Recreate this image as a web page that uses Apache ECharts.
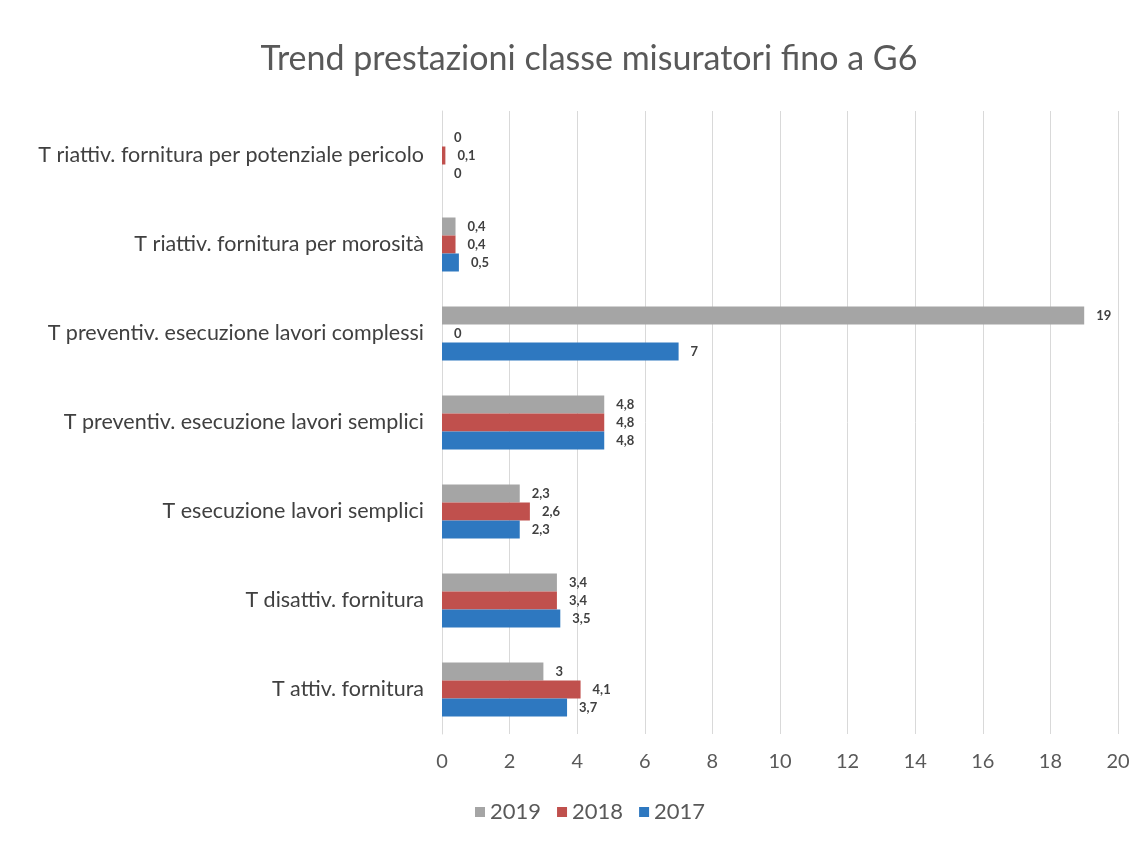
<!DOCTYPE html>
<html>
<head>
<meta charset="utf-8">
<script src="https://cdn.jsdelivr.net/npm/echarts@6/dist/echarts.min.js"></script>
<style>html,body{margin:0;padding:0;background:#fff}#c{width:1144px;height:846px}</style>
</head>
<body>
<div id="c"></div>
<script>
// categories bottom-to-top
const categories = [
  'T attiv. fornitura',
  'T disattiv. fornitura',
  'T esecuzione lavori semplici',
  'T preventiv. esecuzione lavori semplici',
  'T preventiv. esecuzione lavori complessi',
  'T riattiv. fornitura per morosità',
  'T riattiv. fornitura per potenziale pericolo'
];
const values2019 = [3, 3.4, 2.3, 4.8, 19, 0.4, 0];
const values2018 = [4.1, 3.4, 2.6, 4.8, 0, 0.4, 0.1];
const values2017 = [3.7, 3.5, 2.3, 4.8, 7, 0.5, 0];
const xTicks = [0, 2, 4, 6, 8, 10, 12, 14, 16, 18, 20];

const FONT = 'Lato';
const chart = echarts.init(document.getElementById('c'), null, {renderer: 'canvas'});
const lbl = {
  show: true, position: 'right', distance: 12,
  fontFamily: FONT, fontSize: 13, fontWeight: 'bold', color: '#404040',
  formatter: p => String(p.value).replace('.', ',')
};
function mk(name, data, color) {
  return {
    name, type: 'bar', data, barWidth: 18, barGap: '0%',
    itemStyle: {color}, label: lbl
  };
}
chart.setOption({
  animation: false,
  backgroundColor: '#fff',
  title: {
    text: 'Trend prestazioni classe misuratori fino a G6',
    left: 584, top: 37, textAlign: 'center',
    textStyle: {fontFamily: FONT, fontSize: 34, fontWeight: 'normal', color: '#595959'}
  },
  legend: {
    data: ['2019', '2018', '2017'],
    bottom: 18, left: 470,
    icon: 'rect', itemWidth: 10, itemHeight: 10, itemGap: 16,
    textStyle: {fontFamily: FONT, fontSize: 22, color: '#595959'}
  },
  grid: {left: 442, right: 26, top: 111, bottom: 112, containLabel: false},
  xAxis: {
    type: 'value', min: xTicks[0], max: xTicks[xTicks.length - 1], interval: 2,
    axisLine: {show: false}, axisTick: {show: false},
    splitLine: {lineStyle: {color: '#d9d9d9', width: 1}},
    axisLabel: {fontFamily: FONT, fontSize: 20, color: '#595959', margin: 18}
  },
  yAxis: {
    type: 'category', data: categories,
    axisLine: {show: true, lineStyle: {color: '#d9d9d9'}}, axisTick: {show: false},
    axisLabel: {fontFamily: FONT, fontSize: 21.5, color: '#404040', margin: 18}
  },
  series: [
    mk('2019', values2019, '#a5a5a5'),
    mk('2018', values2018, '#c0504d'),
    mk('2017', values2017, '#2e78c0')
  ]
});
</script>
</body>
</html>
